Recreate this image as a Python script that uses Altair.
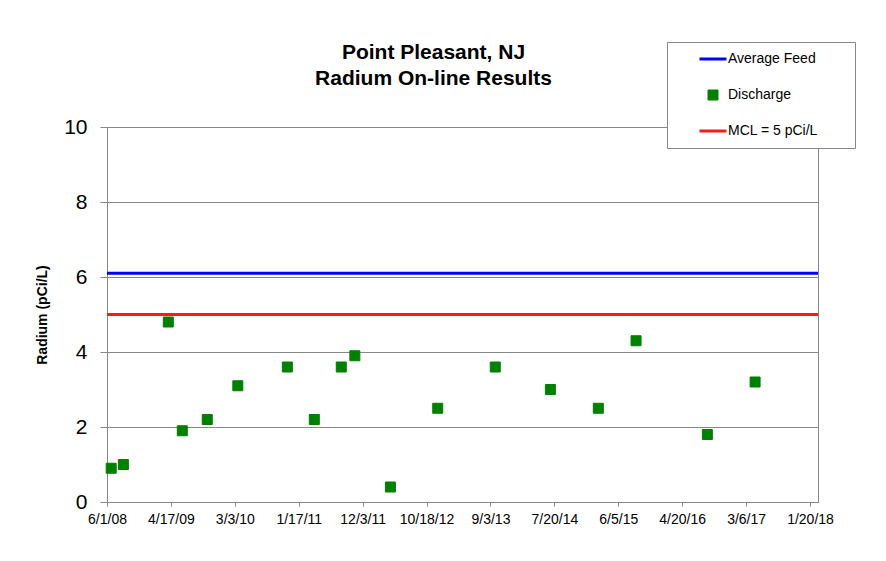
import altair as alt
import pandas as pd

# Discharge samples (date, radium pCi/L)
discharge_dates = [
    "2008-06-22", "2008-08-22", "2009-04-04", "2009-06-13", "2009-10-16",
    "2010-03-18", "2010-11-21", "2011-04-05", "2011-08-18", "2011-10-25",
    "2012-04-20", "2012-12-13", "2013-09-27", "2014-06-30", "2015-02-25",
    "2015-09-02", "2016-08-24", "2017-04-20",
]
discharge_values = [
    0.9, 1.0, 4.8, 1.9, 2.2,
    3.1, 3.6, 2.2, 3.6, 3.9,
    0.4, 2.5, 3.6, 3.0, 2.5,
    4.3, 1.8, 3.2,
]

# Reference lines
rule_series = ["Average Feed", "MCL = 5 pCi/L"]
rule_values = [6.1, 5.0]

series_domain = ["Average Feed", "Discharge", "MCL = 5 pCi/L"]
series_colors = ["#0000ff", "#008000", "#ff1a1a"]
series_shapes = ["stroke", "square", "stroke"]
series_sizes = [729, 100, 729]
series_widths = [3, 1, 3]

# x-axis tick dates (every 320 days)
tick_dates = [
    (2008, 6, 1), (2009, 4, 17), (2010, 3, 3), (2011, 1, 17), (2011, 12, 3),
    (2012, 10, 18), (2013, 9, 3), (2014, 7, 20), (2015, 6, 5), (2016, 4, 20),
    (2017, 3, 6), (2018, 1, 20),
]
x_start = (2008, 6, 1)
x_end = (2018, 3, 1)
y_ticks = [0, 2, 4, 6, 8, 10]

points_df = pd.DataFrame({
    "date": discharge_dates,
    "value": discharge_values,
    "series": ["Discharge"] * len(discharge_dates),
})
rules_df = pd.DataFrame({"series": rule_series, "value": rule_values})

FONT = "Liberation Sans"


def dt(t):
    return alt.DateTime(year=t[0], month=t[1], date=t[2], utc=True)


def leg():
    return alt.Legend(title="\u00a0", titleOrient="right", titlePadding=30)


color_scale = alt.Scale(domain=series_domain, range=series_colors)

x_enc = alt.X(
    "date:T",
    scale=alt.Scale(type="utc", domain=[dt(x_start), dt(x_end)]),
    axis=alt.Axis(
        values=[dt(t) for t in tick_dates],
        format="%-m/%-d/%y",
        title=None,
        grid=False,
        domainColor="#888888",
        tickColor="#888888",
        tickSize=4,
        labelFontSize=14,
        labelPadding=6,
        labelFont=FONT,
        labelColor="#000000",
        labelOverlap=False,
        labelFlush=False,
    ),
)

y_scale = alt.Scale(domain=[0, 10], nice=False, zero=True)
y_axis = alt.Axis(
    values=y_ticks,
    title="Radium (pCi/L)",
    titleFontSize=14,
    titleFont=FONT,
    titleFontWeight="bold",
    titleColor="#000000",
    titlePadding=14,
    grid=True,
    gridColor="#888888",
    gridWidth=1,
    domainColor="#888888",
    tickColor="#888888",
    tickSize=7,
    labelFontSize=21,
    labelFont=FONT,
    labelColor="#000000",
    labelPadding=13,
)

rules = alt.Chart(rules_df).mark_rule(strokeWidth=3).encode(
    y=alt.Y("value:Q", scale=y_scale, axis=y_axis),
    stroke=alt.Stroke("series:N", scale=color_scale, legend=leg()),
)

points = alt.Chart(points_df).mark_point(filled=True, opacity=1).encode(
    x=x_enc,
    y=alt.Y("value:Q", scale=y_scale, axis=y_axis),
    fill=alt.Fill("series:N", scale=color_scale, legend=leg()),
    stroke=alt.Stroke("series:N", scale=color_scale, legend=leg()),
    shape=alt.Shape("series:N", scale=alt.Scale(domain=series_domain, range=series_shapes), legend=leg()),
    size=alt.Size("series:N", scale=alt.Scale(type="ordinal", domain=series_domain, range=series_sizes), legend=leg()),
    strokeWidth=alt.StrokeWidth("series:N", scale=alt.Scale(type="ordinal", domain=series_domain, range=series_widths), legend=leg()),
)

chart = (
    alt.layer(rules, points)
    .properties(
        width=711,
        height=375,
        autosize=alt.AutoSizeParams(type="none"),
        padding={"left": 99, "top": 119, "right": 60, "bottom": 51},
        background="#ffffff",
        title=alt.TitleParams(
            text=["Point Pleasant, NJ", "Radium On-line Results"],
            fontSize=21,
            font=FONT,
            fontWeight="bold",
            color="#000000",
            lineHeight=26,
            anchor="middle",
            frame="group",
            baseline="bottom",
            offset=-68,
            dx=-29,
        ),
    )
    .configure_view(stroke="#888888", strokeWidth=1)
    .configure_legend(
        orient="none",
        legendX=560,
        legendY=-85,
        padding=7,
        strokeColor="#888888",
        fillColor="#ffffff",
        labelFont=FONT,
        labelFontSize=14,
        labelColor="#000000",
        titleFont=FONT,
        titleFontSize=14,
        symbolOffset=24,
        labelOffset=0,
        rowPadding=16,
        clipHeight=20,
        symbolOpacity=1,
    )
)

chart.save("out.html", embed_options={"renderer": "svg", "actions": False})
